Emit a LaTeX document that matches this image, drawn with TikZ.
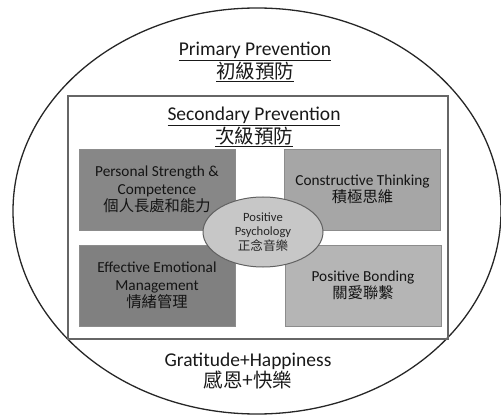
\documentclass[tikz,border=0pt]{standalone}
\usepackage{fontspec}
\setmainfont{Carlito}
\newfontfamily\cjk{Noto Sans CJK TC}
\usetikzlibrary{shapes.geometric}

\tikzset{
  title/.style={align=center,font=\fontsize{19.5}{20.5}\selectfont,text=black!90},
  area/.style={minimum width=156pt,minimum height=81pt,inner sep=2pt,align=center,
    draw=black!45,line width=0.4pt,font=\fontsize{15.3}{17.3}\selectfont,text=black!92},
  core/.style={ellipse,minimum width=120pt,minimum height=70pt,inner sep=0pt,align=center,
    fill=black!22,draw=black!62,line width=1pt,font=\fontsize{12.6}{14.5}\selectfont,text=black!85}
}

\begin{document}
\begin{tikzpicture}[x=1pt,y=-1pt]
\useasboundingbox (0,0) rectangle (501,417);
\draw[line width=1.3pt,black!85] (257,211) ellipse [x radius=244pt,y radius=203pt];
\draw[line width=1.4pt,black!60] (68,96) rectangle (448,339);
\node[title] (primary) at (255,62) {\underline{Primary Prevention}\\\underline{\cjk 初級預防}};
\node[title] (secondary) at (254,127) {\underline{Secondary Prevention}\\\underline{\cjk 次級預防}};
\node[area,fill=black!47] (strength) at (157,189.5) {Personal Strength \&\\Competence\\{\cjk 個人長處和能力}};
\node[area,fill=black!35] (thinking) at (362.5,189.5) {Constructive Thinking\\{\cjk 積極思維}};
\node[area,fill=black!50] (emotion) at (157,285.5) {Effective Emotional\\Management\\{\cjk 情緒管理}};
\node[area,fill=black!29] (bonding) at (363,285.5) {Positive Bonding\\{\cjk 關愛聯繫}};
\node[core] (psychology) at (263,232) {Positive\\Psychology\\{\cjk 正念音樂}};
\node[title] (gratitude) at (248,371) {Gratitude+Happiness\\{\cjk 感恩+快樂}};
\end{tikzpicture}
\end{document}
